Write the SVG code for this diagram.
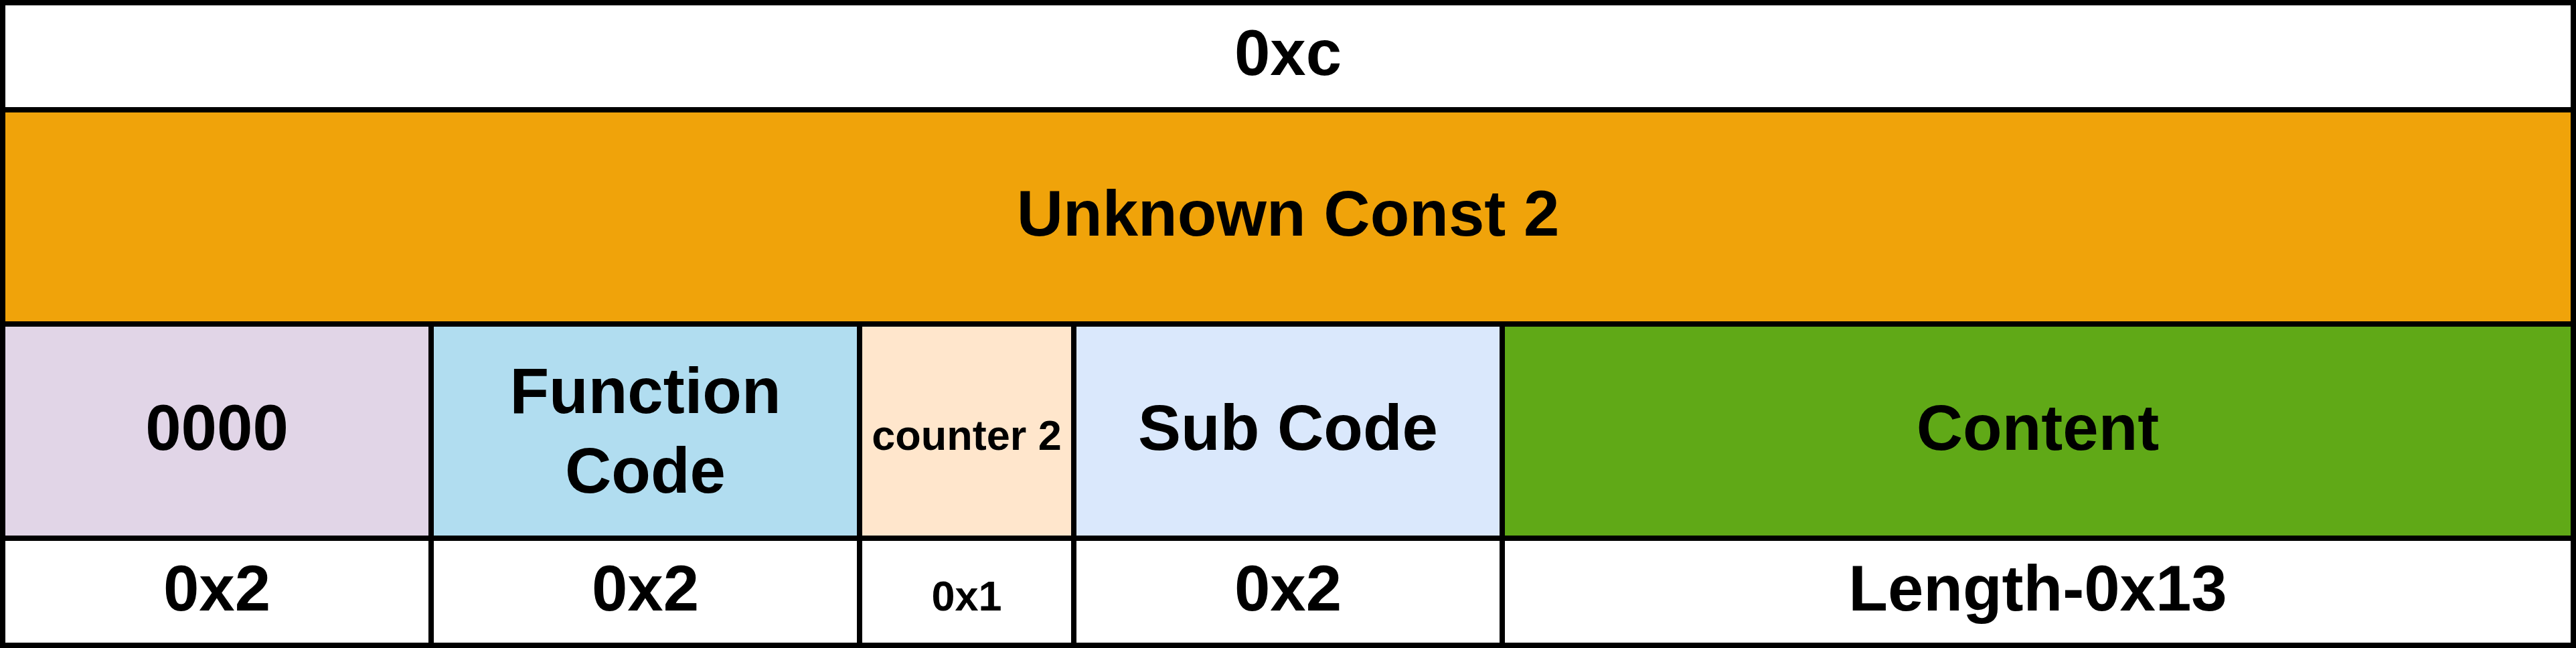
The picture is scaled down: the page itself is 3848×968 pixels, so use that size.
<svg xmlns="http://www.w3.org/2000/svg" width="3848" height="968" viewBox="0 0 3848 968">
<style>
rect{stroke:#000;stroke-width:8}
text{font-family:"Liberation Sans",Arial,sans-serif;font-weight:bold;fill:#000;text-anchor:middle}
.b{font-size:96px}
.s{font-size:63px}
</style>
<rect width="3848" height="968" fill="#fff" style="stroke:none"/>
<g id="header">
<rect x="4" y="4" width="3840" height="160" fill="#fff"/>
<text class="b" x="1924" y="112">0xc</text>
</g>
<g id="unknown-const-2">
<rect x="4" y="164" width="3840" height="320" fill="#F0A30A"/>
<text class="b" x="1924" y="352">Unknown Const 2</text>
</g>
<g id="f0000">
<rect x="4" y="484" width="640" height="320" fill="#E1D5E7"/>
<text class="b" x="324" y="672">0000</text>
</g>
<g id="function-code">
<rect x="644" y="484" width="640" height="320" fill="#B1DDF0"/>
<text class="b" x="964" y="617">Function</text>
<text class="b" x="964" y="736">Code</text>
</g>
<g id="counter-2">
<rect x="1284" y="484" width="320" height="320" fill="#FFE6CC"/>
<text class="s" x="1444" y="672">counter 2</text>
</g>
<g id="sub-code">
<rect x="1604" y="484" width="640" height="320" fill="#DAE8FC"/>
<text class="b" x="1924" y="672">Sub Code</text>
</g>
<g id="content">
<rect x="2244" y="484" width="1600" height="320" fill="#60A917"/>
<text class="b" x="3044" y="672">Content</text>
</g>
<g id="len-0000">
<rect x="4" y="804" width="640" height="160" fill="#fff"/>
<text class="b" x="324" y="912">0x2</text>
</g>
<g id="len-function-code">
<rect x="644" y="804" width="640" height="160" fill="#fff"/>
<text class="b" x="964" y="912">0x2</text>
</g>
<g id="len-counter-2">
<rect x="1284" y="804" width="320" height="160" fill="#fff"/>
<text class="s" x="1444" y="912">0x1</text>
</g>
<g id="len-sub-code">
<rect x="1604" y="804" width="640" height="160" fill="#fff"/>
<text class="b" x="1924" y="912">0x2</text>
</g>
<g id="len-content">
<rect x="2244" y="804" width="1600" height="160" fill="#fff"/>
<text class="b" x="3044" y="912">Length-0x13</text>
</g>
<g id="connectors"/>
</svg>
